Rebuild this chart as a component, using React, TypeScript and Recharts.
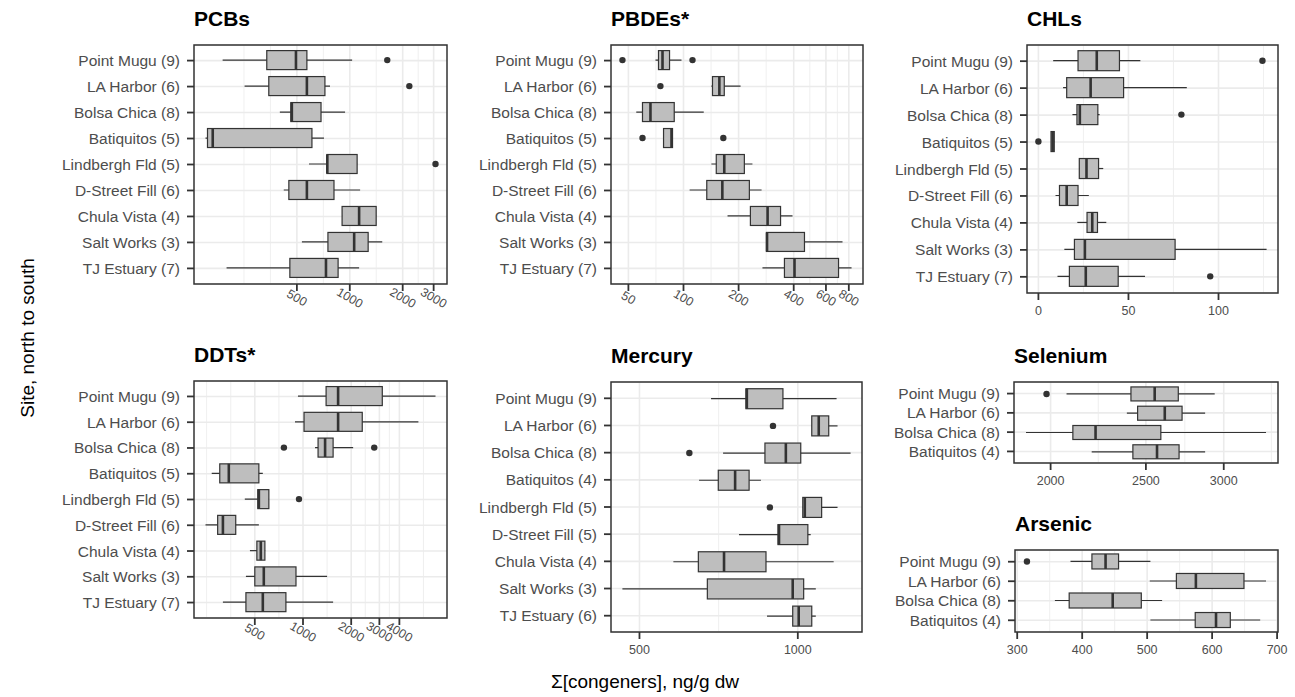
import React from "react";
import { ComposedChart, Bar, XAxis, YAxis, CartesianGrid } from "recharts";

// sites, north to south
const SITES_9 = [
  "Point Mugu (9)",
  "LA Harbor (6)",
  "Bolsa Chica (8)",
  "Batiquitos (5)",
  "Lindbergh Fld (5)",
  "D-Street Fill (6)",
  "Chula Vista (4)",
  "Salt Works (3)",
  "TJ Estuary (7)",
];
const SITES_MERCURY = [
  "Point Mugu (9)",
  "LA Harbor (6)",
  "Bolsa Chica (8)",
  "Batiquitos (4)",
  "Lindbergh Fld (5)",
  "D-Street Fill (5)",
  "Chula Vista (4)",
  "Salt Works (3)",
  "TJ Estuary (6)",
];
const SITES_4 = ["Point Mugu (9)", "LA Harbor (6)", "Bolsa Chica (8)", "Batiquitos (4)"];

// each row: [lower whisker, Q1, median, Q3, upper whisker]
const PCB_BOX = [
  [189, 337, 494, 570, 1031],
  [252, 346, 570, 722, 772],
  [400, 462, 468, 686, 940],
  [151, 155, 166, 609, 713],
  [586, 741, 745, 1101, 1101],
  [421, 450, 570, 813, 1145],
  [904, 904, 1130, 1413, 1413],
  [534, 751, 1059, 1272, 1530],
  [199, 456, 732, 858, 1130],
];
const PCB_OUT = [[1634], [2182], [], [], [3074], [], [], [], []];
const PCB_TICKS = [500, 1000, 2000, 3000];

const PBDE_BOX = [
  [70.3, 73, 76.8, 83.9, 97.5],
  [142, 144, 157, 167, 205],
  [55.2, 59.7, 66, 89, 129],
  [77.8, 77.8, 86, 87.1, 87.1],
  [142, 151, 167, 215, 238],
  [108, 134, 163, 229, 267],
  [174, 232, 288, 339, 394],
  [284, 284, 286, 458, 739],
  [270, 356, 404, 703, 828],
];
const PBDE_OUT = [[46.4, 112], [74.8], [], [59.7, 165], [], [], [], [], []];
const PBDE_TICKS = [50, 100, 200, 400, 600, 800];

const CHL_BOX = [
  [8.2, 22, 32.4, 45, 56.6],
  [13.7, 15.7, 29, 47.3, 82.4],
  [18.9, 21.4, 23, 33, 34],
  [7, 7, 7.9, 8.8, 8.8],
  [22.7, 22.7, 26.7, 33.4, 36],
  [9.5, 11.7, 15.7, 22, 28],
  [21.6, 27, 29.9, 32.8, 37.7],
  [14.4, 20, 25.8, 75.9, 126.7],
  [10.6, 17.2, 26.3, 44.3, 59.2],
];
const CHL_OUT = [[124.4], [], [79.4], [0], [], [], [], [], [95.4]];
const CHL_TICKS = [0, 50, 100];

const DDT_BOX = [
  [930, 1394, 1657, 3128, 6725],
  [891, 1015, 1657, 2345, 5259],
  [1189, 1242, 1374, 1542, 2057],
  [269, 302, 344, 530, 561],
  [433, 522, 530, 612, 612],
  [246, 293, 316, 380, 530],
  [466, 515, 545, 578, 580],
  [440, 500, 569, 904, 1414],
  [316, 440, 561, 782, 1542],
];
const DDT_OUT = [[], [], [760, 2786], [], [944], [], [], [], []];
const DDT_TICKS = [500, 1000, 2000, 3000, 4000];

const HG_BOX = [
  [684, 797, 800, 937, 1185],
  [1063, 1063, 1096, 1145, 1190],
  [721, 866, 949, 1013, 1260],
  [649, 706, 760, 808, 851],
  [1022, 1022, 1031, 1110, 1190],
  [773, 917, 921, 1045, 1058],
  [580, 647, 724, 870, 1170],
  [464, 673, 978, 1026, 1082],
  [874, 978, 1004, 1063, 1082],
];
const HG_OUT = [[], [897], [622], [], [885], [], [], [], []];
const HG_TICKS = [500, 1000];

const SE_BOX = [
  [2076, 2414, 2552, 2697, 2937],
  [2391, 2452, 2613, 2721, 2872],
  [1888, 2107, 2222, 2589, 3312],
  [2202, 2425, 2566, 2702, 2872],
];
const SE_OUT = [[1981], [], [], []];
const SE_TICKS = [2000, 2500, 3000];

const AS_BOX = [
  [382, 415, 436, 456, 505],
  [504, 545, 575, 649, 683],
  [358, 380, 447, 491, 523],
  [505, 574, 606, 628, 674],
];
const AS_OUT = [[315], [], [], []];
const AS_TICKS = [300, 400, 500, 600, 700];

type Panel = {
  title: string;
  sites: string[];
  box: number[][];
  out: number[][];
  ticks: number[];
  log: boolean;
  tilt: boolean;
  rect: [number, number, number, number]; // plot left, top, right, bottom
};

const PANELS: Panel[] = [
  { title: "PCBs", sites: SITES_9, box: PCB_BOX, out: PCB_OUT, ticks: PCB_TICKS, log: true, tilt: true, rect: [194, 45, 447, 284] },
  { title: "PBDEs*", sites: SITES_9, box: PBDE_BOX, out: PBDE_OUT, ticks: PBDE_TICKS, log: true, tilt: true, rect: [611, 45, 863, 284] },
  { title: "CHLs", sites: SITES_9, box: CHL_BOX, out: CHL_OUT, ticks: CHL_TICKS, log: false, tilt: false, rect: [1027, 45, 1278, 293] },
  { title: "DDTs*", sites: SITES_9, box: DDT_BOX, out: DDT_OUT, ticks: DDT_TICKS, log: true, tilt: true, rect: [194, 381, 447, 618] },
  { title: "Mercury", sites: SITES_MERCURY, box: HG_BOX, out: HG_OUT, ticks: HG_TICKS, log: true, tilt: false, rect: [611, 382, 862, 632] },
  { title: "Selenium", sites: SITES_4, box: SE_BOX, out: SE_OUT, ticks: SE_TICKS, log: true, tilt: false, rect: [1014, 382, 1278, 463] },
  { title: "Arsenic", sites: SITES_4, box: AS_BOX, out: AS_OUT, ticks: AS_TICKS, log: false, tilt: false, rect: [1015, 550, 1278, 632] },
];

const FONT = '"Liberation Sans", Arial, Helvetica, sans-serif';
const INK = "#333333";

// ggplot-style 5% expansion, done in the transformed space
const limits = (box: number[][], out: number[][], log: boolean): [number, number] => {
  const tf = (v: number) => (log ? Math.log10(v) : v);
  const vals = [...box.flat(), ...out.flat()].map(tf);
  const lo = Math.min(...vals);
  const hi = Math.max(...vals);
  const pad = (hi - lo) * 0.05;
  return log ? [10 ** (lo - pad), 10 ** (hi + pad)] : [lo - pad, hi + pad];
};

// same rule as scales::regular_minor_breaks
const minorBreaks = (ticks: number[], dom: [number, number], log: boolean) => {
  const tf = (v: number) => (log ? Math.log10(v) : v);
  const inv = (v: number) => (log ? 10 ** v : v);
  const major = ticks.map(tf);
  let b = [...major];
  const bd = b[1] - b[0];
  const [l, h] = dom.map(tf);
  if (l < b[0]) b = [b[0] - bd, ...b];
  if (h > b[b.length - 1]) b = [...b, b[b.length - 1] + bd];
  const res: number[] = [];
  for (let i = 0; i < b.length - 1; i++) res.push(b[i], (b[i] + b[i + 1]) / 2);
  res.push(b[b.length - 1]);
  return res
    .filter((v) => v >= l && v <= h)
    .filter((v) => !major.some((m) => Math.abs(m - v) < 1e-9))
    .map(inv);
};

const boxShape = (log: boolean) => (props: any) => {
  const { x, y, width, height, payload } = props;
  const tf = (v: number) => (log ? Math.log(v) : v);
  const a = tf(payload.lo);
  const b = tf(payload.hi);
  const px = (v: number) => x + (width * (tf(v) - a)) / (b - a);
  const cy = y + height / 2;
  const q1 = px(payload.q1);
  const q3 = px(payload.q3);
  return (
    <g>
      <line x1={px(payload.lo)} x2={px(payload.hi)} y1={cy} y2={cy} stroke={INK} strokeWidth={1.2} />
      <rect x={q1} y={y} width={Math.max(q3 - q1, 1)} height={height} fill="#bebebe" stroke={INK} strokeWidth={1.2} />
      <line x1={px(payload.med)} x2={px(payload.med)} y1={y} y2={y + height} stroke={INK} strokeWidth={2.6} />
      {payload.out.map((v: number, i: number) => (
        <circle key={i} cx={px(v)} cy={cy} r={3.2} fill={INK} />
      ))}
    </g>
  );
};

const XTick = (props: any) => {
  const { x, y, payload, tilt } = props;
  const cy = y + (tilt ? 5 : 9);
  return (
    <text
      x={x}
      y={cy}
      textAnchor="middle"
      dominantBaseline="central"
      fill="#4d4d4d"
      fontSize={12.5}
      transform={tilt ? `rotate(30 ${x} ${cy})` : undefined}
    >
      {payload.value}
    </text>
  );
};

const YW = 175;
const MT = 5;
const MR = 20;
const XH = 40;

const BoxPanel = ({ p }: { p: Panel }) => {
  const [l, t, r, b] = p.rect;
  const rows = p.sites.map((site, i) => ({
    site,
    lo: p.box[i][0],
    q1: p.box[i][1],
    med: p.box[i][2],
    q3: p.box[i][3],
    hi: p.box[i][4],
    out: p.out[i],
  }));
  const dom = limits(p.box, p.out, p.log);
  const minor = minorBreaks(p.ticks, dom, p.log);
  const n = p.sites.length;
  const plotH = b - t;
  const step = plotH / (n + 0.2);
  const pad = (plotH - n * step) / 2;

  return (
    <div style={{ position: "absolute", left: l - YW, top: t - MT }}>
      <ComposedChart
        layout="vertical"
        width={YW + (r - l) + MR}
        height={MT + plotH + XH}
        data={rows}
        margin={{ top: MT, right: MR, bottom: 0, left: 0 }}
      >
        <CartesianGrid stroke="#ebebeb" strokeWidth={0.8} horizontal={false} verticalValues={minor} />
        <CartesianGrid stroke="#ebebeb" strokeWidth={1.6} verticalValues={p.ticks} />
        <XAxis
          type="number"
          scale={p.log ? "log" : "linear"}
          domain={dom}
          allowDataOverflow
          ticks={p.ticks}
          interval={0}
          height={XH}
          tickSize={7}
          axisLine={false}
          tickLine={{ stroke: INK, strokeWidth: 1.8 }}
          tick={(tp: any) => <XTick {...tp} tilt={p.tilt} />}
        />
        <YAxis
          type="category"
          dataKey="site"
          width={YW}
          interval={0}
          tickSize={7}
          tickMargin={7}
          axisLine={false}
          tickLine={{ stroke: INK, strokeWidth: 1.8 }}
          tick={{ fill: "#4d4d4d", fontSize: 15.5 }}
          padding={{ top: pad, bottom: pad }}
        />
        <Bar
          dataKey={(d: any) => [d.lo, d.hi]}
          barSize={Math.round(step * 0.75)}
          shape={boxShape(p.log)}
          isAnimationActive={false}
        />
      </ComposedChart>
    </div>
  );
};

export default function App() {
  return (
    <div
      style={{
        position: "absolute",
        left: 0,
        top: 0,
        width: 1295,
        height: 697,
        background: "#ffffff",
        fontFamily: FONT,
        overflow: "hidden",
      }}
    >
      {PANELS.map((p) => (
        <BoxPanel key={p.title} p={p} />
      ))}
      <svg
        width={1295}
        height={697}
        style={{ position: "absolute", left: 0, top: 0, pointerEvents: "none" }}
        fontFamily={FONT}
      >
        {PANELS.map((p) => {
          const [l, t, r, b] = p.rect;
          return (
            <g key={p.title}>
              <rect x={l} y={t} width={r - l} height={b - t} fill="none" stroke={INK} strokeWidth={1.5} />
              <text x={l} y={t - 27 + 7.5} fontSize={21} fontWeight="bold" fill="#000">
                {p.title}
              </text>
            </g>
          );
        })}
        <text
          x={27}
          y={338}
          transform="rotate(-90 27 338)"
          textAnchor="middle"
          dominantBaseline="central"
          fontSize={19}
          fill="#000"
        >
          Site, north to south
        </text>
        <text x={645} y={688} textAnchor="middle" fontSize={19} fill="#000">
          Σ[congeners], ng/g dw
        </text>
      </svg>
    </div>
  );
}
